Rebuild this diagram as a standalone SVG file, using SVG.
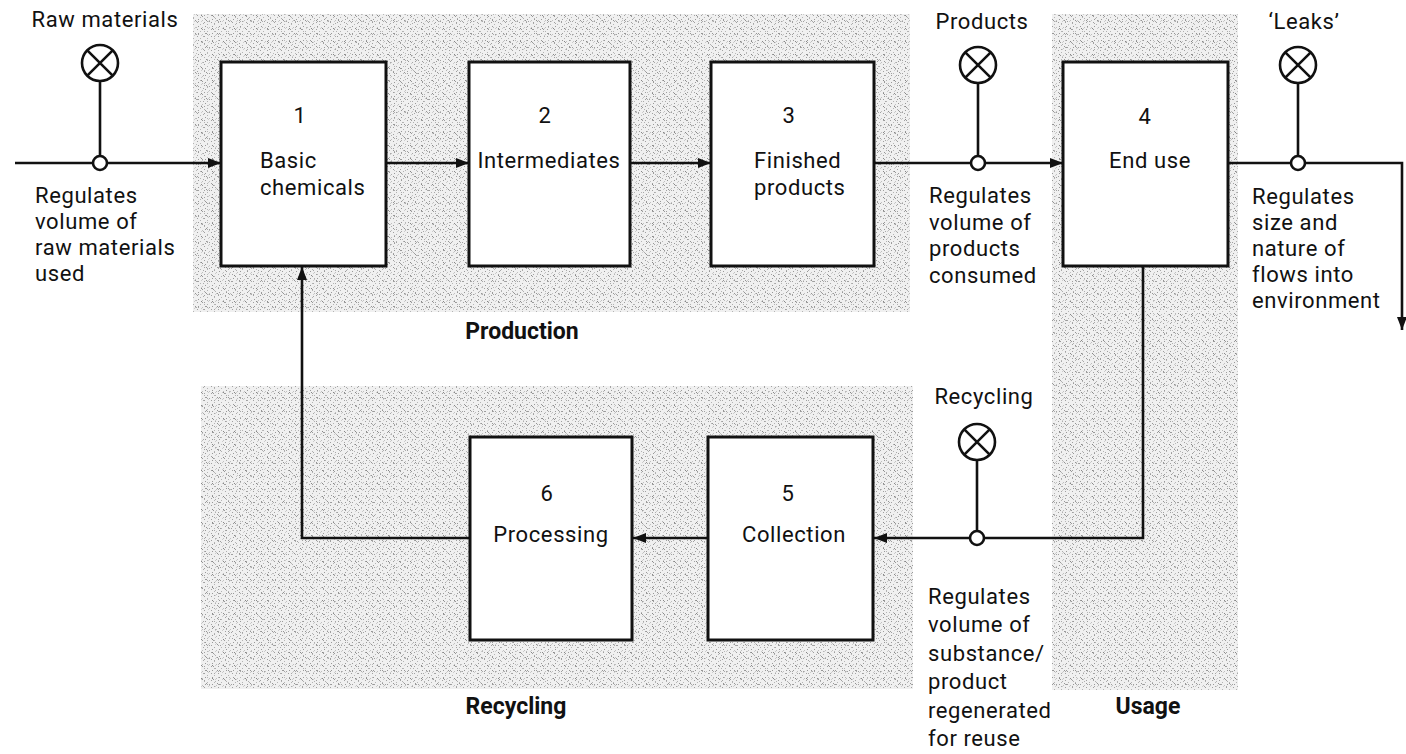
<svg xmlns="http://www.w3.org/2000/svg" width="1406" height="754" viewBox="0 0 1406 754">
<style>
  text { font-family: Roboto, "Liberation Sans", sans-serif; font-size: 22px; letter-spacing: 0.6px; fill: #111; }
  .b { font-weight: bold; font-size: 23px; letter-spacing: 0; }
  .m { text-anchor: middle; }
  .box { fill: #fff; stroke: #111; stroke-width: 3; }
  .ln { fill: none; stroke: #111; stroke-width: 2.6; }
  .vc { fill: #fff; stroke: #111; stroke-width: 2.6; }
</style>
<defs>
  <pattern id="pa" width="7" height="7" patternUnits="userSpaceOnUse">
    <rect width="7" height="7" fill="#f0f0f0"/>
    <rect x="1" y="1" width="1" height="1" fill="#a0a0a0"/>
    <rect x="4" y="3" width="1" height="1" fill="#b4b4b4"/>
    <rect x="2" y="5" width="1" height="1" fill="#999999"/>
    <rect x="6" y="6" width="1" height="1" fill="#c0c0c0"/>
    <rect x="5" y="0" width="1" height="1" fill="#cccccc"/>
  </pattern>
  <pattern id="pb" width="11" height="13" patternUnits="userSpaceOnUse">
    <rect x="3" y="2" width="1" height="1" fill="#888888"/>
    <rect x="4" y="3" width="1" height="1" fill="#9a9a9a"/>
    <rect x="8" y="7" width="1" height="1" fill="#959595"/>
    <rect x="9" y="8" width="1" height="1" fill="#aaaaaa"/>
    <rect x="5" y="10" width="1" height="1" fill="#a8a8a8"/>
    <rect x="9" y="1" width="1" height="1" fill="#b8b8b8"/>
    <rect x="0" y="8" width="1" height="1" fill="#a0a0a0"/>
    <rect x="6" y="5" width="1" height="1" fill="#b0b0b0"/>
  </pattern>
  <marker id="ah" markerWidth="13" markerHeight="10" refX="13" refY="5" orient="auto" markerUnits="userSpaceOnUse">
    <path d="M0,0 L13,5 L0,10 z" fill="#111"/>
  </marker>
</defs>

<g id="shading">
  <rect x="193" y="14" width="717" height="298" fill="url(#pa)"/>
  <rect x="193" y="14" width="717" height="298" fill="url(#pb)"/>
  <rect x="1052" y="14" width="186" height="676" fill="url(#pa)"/>
  <rect x="1052" y="14" width="186" height="676" fill="url(#pb)"/>
  <rect x="201" y="386" width="712" height="303" fill="url(#pa)"/>
  <rect x="201" y="386" width="712" height="303" fill="url(#pb)"/>
</g>

<g id="connectors">
  <path class="ln" d="M15,163 H221" marker-end="url(#ah)"/>
  <path class="ln" d="M386,163 H469" marker-end="url(#ah)"/>
  <path class="ln" d="M630,163 H711" marker-end="url(#ah)"/>
  <path class="ln" d="M874,163 H1063" marker-end="url(#ah)"/>
  <path class="ln" d="M1228,163 H1402 V330" marker-end="url(#ah)"/>
  <path class="ln" d="M1143,266 V538 H874" marker-end="url(#ah)"/>
  <path class="ln" d="M708,538 H633" marker-end="url(#ah)"/>
  <path class="ln" d="M470,538 H302 V267" marker-end="url(#ah)"/>
</g>

<g id="valve-raw">
  <line class="ln" x1="100" y1="81" x2="100" y2="156"/>
  <circle class="vc" cx="100" cy="63" r="18"/>
  <path class="ln" d="M87.3,50.3 L112.7,75.7 M112.7,50.3 L87.3,75.7"/>
  <circle class="vc" cx="100" cy="163" r="7"/>
  <text class="m" x="105" y="27">Raw materials</text>
  <text x="35" y="203">Regulates</text>
  <text x="35" y="229">volume of</text>
  <text x="35" y="255">raw materials</text>
  <text x="35" y="281">used</text>
</g>

<g id="valve-products">
  <line class="ln" x1="978" y1="83" x2="978" y2="156"/>
  <circle class="vc" cx="978" cy="65" r="18"/>
  <path class="ln" d="M965.3,52.3 L990.7,77.7 M990.7,52.3 L965.3,77.7"/>
  <circle class="vc" cx="978" cy="163" r="7"/>
  <text class="m" x="982" y="29">Products</text>
  <text x="929" y="203">Regulates</text>
  <text x="929" y="230">volume of</text>
  <text x="929" y="256">products</text>
  <text x="929" y="283">consumed</text>
</g>

<g id="valve-leaks">
  <line class="ln" x1="1298" y1="83" x2="1298" y2="156"/>
  <circle class="vc" cx="1298" cy="65" r="18"/>
  <path class="ln" d="M1285.3,52.3 L1310.7,77.7 M1310.7,52.3 L1285.3,77.7"/>
  <circle class="vc" cx="1298" cy="163" r="7"/>
  <text class="m" x="1304" y="29">‘Leaks’</text>
  <text x="1252" y="204">Regulates</text>
  <text x="1252" y="230">size and</text>
  <text x="1252" y="256">nature of</text>
  <text x="1252" y="282">flows into</text>
  <text x="1252" y="308">environment</text>
</g>

<g id="valve-recycling">
  <line class="ln" x1="977" y1="460" x2="977" y2="531"/>
  <circle class="vc" cx="977" cy="442" r="18"/>
  <path class="ln" d="M964.3,429.3 L989.7,454.7 M989.7,429.3 L964.3,454.7"/>
  <circle class="vc" cx="977" cy="538" r="7"/>
  <text class="m" x="984" y="404">Recycling</text>
  <text x="928" y="604">Regulates</text>
  <text x="928" y="632">volume of</text>
  <text x="928" y="661">substance/</text>
  <text x="928" y="689">product</text>
  <text x="928" y="718">regenerated</text>
  <text x="928" y="746">for reuse</text>
</g>

<g id="node1">
  <rect class="box" x="221" y="62" width="165" height="204"/>
  <text class="m" x="300" y="123">1</text>
  <text x="260" y="168">Basic</text>
  <text x="260" y="195">chemicals</text>
</g>
<g id="node2">
  <rect class="box" x="469" y="62" width="161" height="204"/>
  <text class="m" x="545" y="123">2</text>
  <text class="m" x="549" y="168">Intermediates</text>
</g>
<g id="node3">
  <rect class="box" x="711" y="62" width="163" height="204"/>
  <text class="m" x="789" y="123">3</text>
  <text x="754" y="168">Finished</text>
  <text x="754" y="195">products</text>
</g>
<g id="node4">
  <rect class="box" x="1063" y="62" width="165" height="204"/>
  <text class="m" x="1145" y="124">4</text>
  <text class="m" x="1150" y="168">End use</text>
</g>
<g id="node5">
  <rect class="box" x="708" y="437" width="165" height="203"/>
  <text class="m" x="788" y="501">5</text>
  <text class="m" x="794" y="542">Collection</text>
</g>
<g id="node6">
  <rect class="box" x="470" y="437" width="162" height="203"/>
  <text class="m" x="547" y="501">6</text>
  <text class="m" x="551" y="542">Processing</text>
</g>

<g id="labels">
  <text class="b m" x="522" y="339">Production</text>
  <text class="b m" x="516" y="714">Recycling</text>
  <text class="b m" x="1148" y="714">Usage</text>
</g>
</svg>
